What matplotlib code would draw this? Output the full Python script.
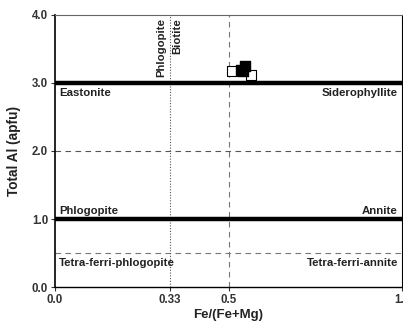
import matplotlib.pyplot as plt

plt.rcParams['font.family'] = ['Liberation Sans', 'DejaVu Sans']
plt.rcParams['font.weight'] = 'bold'

# sample compositions
open_x = [0.51, 0.565]
open_y = [3.17, 3.11]
filled_x = [0.535, 0.548, 0.542]
filled_y = [3.19, 3.25, 3.18]

xticks = [0.0, 0.33, 0.5, 1.0]
xticklabels = ['0.0', '0.33', '0.5', '1.0']
yticks = [0.0, 1.0, 2.0, 3.0, 4.0]

fig = plt.figure(figsize=(4.03, 3.24), dpi=100)
ax = fig.add_axes([0.1365, 0.114, 0.861, 0.84])

ax.axhline(3.0, color='black', lw=3.2, zorder=2)
ax.axhline(1.0, color='black', lw=3.2, zorder=2)
ax.axhline(2.0, color='#555555', lw=0.8, ls=(0, (5, 4)), zorder=1)
ax.axhline(0.5, color='#777777', lw=0.8, ls=(0, (5, 4)), zorder=1)
ax.axvline(0.33, color='#555555', lw=0.8, ls=(0, (1, 1.5)), zorder=1)
ax.axvline(0.5, color='#777777', lw=0.8, ls=(0, (5, 4)), zorder=1)

ax.scatter(open_x, open_y, marker='s', s=55, facecolor='white', edgecolor='black', lw=0.8, zorder=3)
ax.scatter(filled_x, filled_y, marker='s', s=55, facecolor='black', edgecolor='black', zorder=4)

fs = 8.2
tc = '#222222'
ax.text(0.012, 2.93, 'Eastonite', fontsize=fs, ha='left', va='top', color=tc)
ax.text(0.988, 2.93, 'Siderophyllite', fontsize=fs, ha='right', va='top', color=tc)
ax.text(0.012, 1.05, 'Phlogopite', fontsize=fs, ha='left', va='bottom', color=tc)
ax.text(0.988, 1.05, 'Annite', fontsize=fs, ha='right', va='bottom', color=tc)
ax.text(0.012, 0.42, 'Tetra-ferri-phlogopite', fontsize=fs, ha='left', va='top', color=tc)
ax.text(0.988, 0.42, 'Tetra-ferri-annite', fontsize=fs, ha='right', va='top', color=tc)
ax.text(0.322, 3.95, 'Phlogopite', fontsize=fs, rotation=90, ha='right', va='top', color=tc)
ax.text(0.338, 3.95, 'Biotite', fontsize=fs, rotation=90, ha='left', va='top', color=tc)

ax.set_xlim(0, 1)
ax.set_ylim(0, 4)
ax.set_xticks(xticks)
ax.set_xticklabels(xticklabels)
ax.set_yticks(yticks)
ax.set_yticklabels(['%.1f' % v for v in yticks])
ax.tick_params(labelsize=8.3, length=3, width=0.8, colors='#333333', pad=2)

ax.set_xlabel('Fe/(Fe+Mg)', fontsize=9.5, fontweight='bold', labelpad=2, color=tc)
ax.set_ylabel('Total Al (apfu)', fontsize=9.8, fontweight='bold', labelpad=8, color=tc)

ax.spines['left'].set_linewidth(1.2)
ax.spines['bottom'].set_linewidth(1.0)
ax.spines['top'].set_linewidth(0.8)
ax.spines['top'].set_color('#666666')
ax.spines['right'].set_linewidth(0.8)

fig.savefig('out.png', dpi=100)
